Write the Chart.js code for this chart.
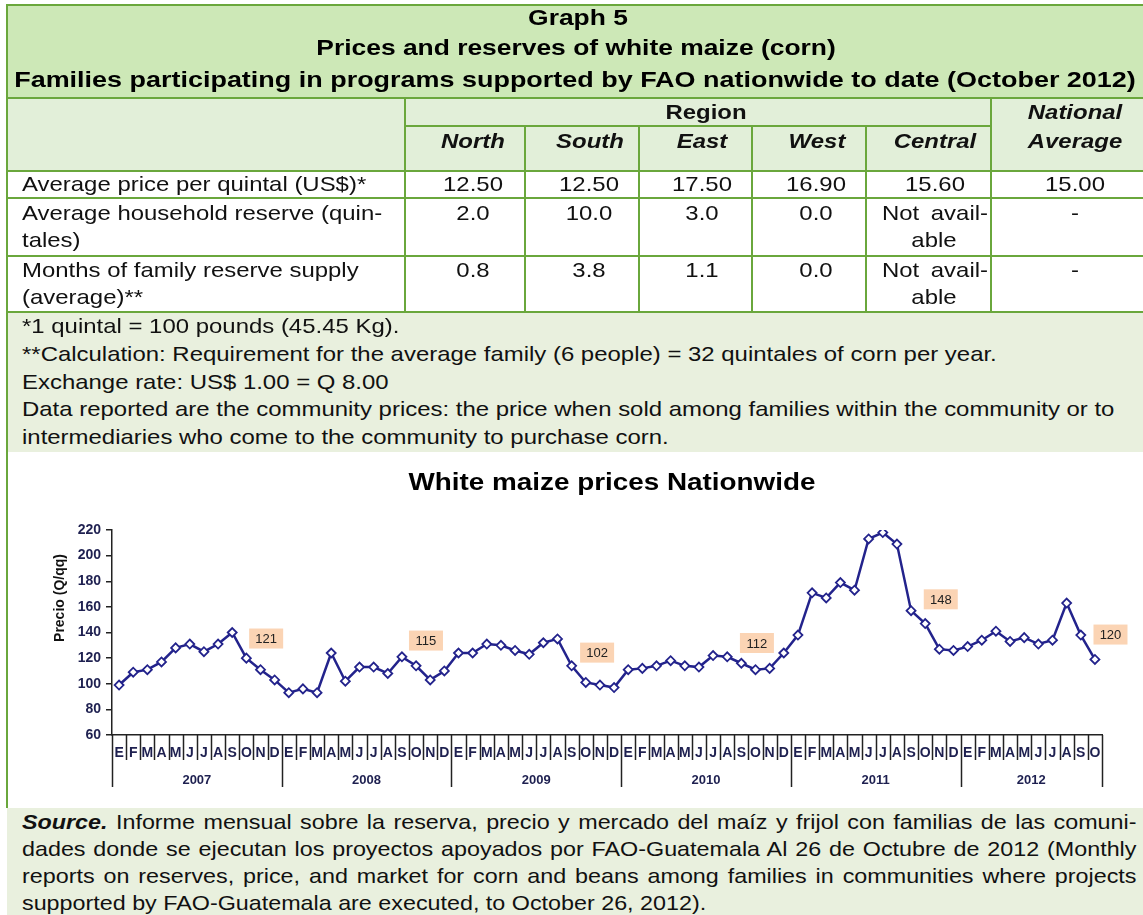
<!DOCTYPE html>
<html><head><meta charset="utf-8">
<script src="https://cdn.jsdelivr.net/npm/chart.js@4.4.1/dist/chart.umd.min.js"></script>
<style>
body{margin:0;background:#fff;font-family:"Liberation Sans",Arial,sans-serif;color:#111;}
#page{position:relative;width:1143px;height:915px;overflow:hidden;}
.bg,.ln{position:absolute;}
.ln{background:#6aa73c;z-index:3;}
.t{position:absolute;white-space:nowrap;font-size:21px;line-height:28px;z-index:4;}
.b{font-weight:bold}
.bi{font-weight:bold;font-style:italic}
.title{font-size:22px;font-weight:bold;color:#000;}
.ct{font-size:24px;font-weight:bold;color:#000;}
.src{position:absolute;left:22px;width:1004px;font-size:21px;line-height:27px;white-space:nowrap;z-index:4;transform:scaleX(1.11);transform-origin:left top;}
.src div{text-align:justify;text-align-last:justify;}
.src div.last{text-align:left;text-align-last:left;}
#chartBox{position:absolute;left:0;top:452px;width:1143px;height:356px;z-index:2;}
</style></head>
<body>
<div id="page">
  <div class="bg" style="left:7px;top:5px;width:1136px;height:93px;background:#cde8b7"></div>
  <div class="bg" style="left:7px;top:98px;width:1136px;height:73px;background:#e2efd9"></div>
  <div class="bg" style="left:7px;top:312px;width:1136px;height:140px;background:#e9f0de"></div>
  <div class="bg" style="left:7px;top:808px;width:1136px;height:107px;background:#e9f0de"></div>

  <div class="ln" style="left:6px;top:4px;width:1137px;height:2px"></div>
  <div class="ln" style="left:6px;top:4px;width:2px;height:804px"></div>
  <div class="ln" style="left:6px;top:97px;width:1137px;height:2px"></div>
  <div class="ln" style="left:404px;top:125px;width:587px;height:2px"></div>
  <div class="ln" style="left:6px;top:170px;width:1137px;height:2px"></div>
  <div class="ln" style="left:6px;top:197px;width:1137px;height:2px"></div>
  <div class="ln" style="left:6px;top:255px;width:1137px;height:2px"></div>
  <div class="ln" style="left:6px;top:311px;width:1137px;height:2px"></div>
  <div class="ln" style="left:404px;top:98px;width:2px;height:214px"></div>
  <div class="ln" style="left:990px;top:98px;width:2px;height:214px"></div>
  <div class="ln" style="left:524px;top:126px;width:2px;height:186px"></div>
  <div class="ln" style="left:638px;top:126px;width:2px;height:186px"></div>
  <div class="ln" style="left:751px;top:126px;width:2px;height:186px"></div>
  <div class="ln" style="left:865px;top:126px;width:2px;height:186px"></div>

  <div class="src" style="top:808px">
    <div><b><i>Source.</i></b> Informe mensual sobre la reserva, precio y mercado del maíz y frijol con familias de las comuni-</div>
    <div>dades donde se ejecutan los proyectos apoyados por FAO-Guatemala Al 26 de Octubre de 2012 (Monthly</div>
    <div>reports on reserves, price, and market for corn and beans among families in communities where projects</div>
    <div class="last">supported by FAO-Guatemala are executed, to October 26, 2012).</div>
  </div>

  <div id="chartBox"><canvas id="c" width="1143" height="356"></canvas></div>
</div>
<script>
// ---- chart data ----
const monthLetters = ['E','F','M','A','M','J','J','A','S','O','N','D'];
const years = ['2007','2008','2009','2010','2011','2012'];
const prices2007 = [99,109,111,117,128,131,125,131,140,120,111,103];
const prices2008 = [93,96,93,124,102,113,113,108,121,114,103,110];
const prices2009 = [124,124,131,130,126,123,132,135,114,101,99,97];
const prices2010 = [111,112,114,118,114,113,122,121,116,111,112,124];
const prices2011 = [138,171,167,179,173,213,218,209,157,147,127,126];
const prices2012 = [129,134,141,133,136,131,134,163,138,119];
const yTicks = [60,80,100,120,140,160,180,200,220];
const yAxisTitle = 'Precio (Q/qq)';
const annualLabels = ['121','115','102','112','148','120'];
const annualLabelMonth = [10.4,21.7,33.8,45.1,58.1,70.1];
const annualLabelValue = [135.3,133.7,124.3,131.8,165.9,138.4];

// ---- table text ----
const SX = 1.14;
function put(text, x, y, align, cls, sx){
  const d = document.createElement('div');
  d.className = 't ' + (cls||'');
  d.textContent = text;
  d.style.top = (y-14)+'px';
  const s = sx || SX;
  if(align==='center'){ d.style.left=(x-700)+'px'; d.style.width='1400px'; d.style.textAlign='center'; d.style.transformOrigin='center center'; }
  else if(align==='right'){ d.style.left=(x-1400)+'px'; d.style.width='1400px'; d.style.textAlign='right'; d.style.transformOrigin='right center'; }
  else { d.style.left=x+'px'; d.style.transformOrigin='left center'; }
  d.style.transform = 'scaleX('+s+')';
  document.getElementById('page').appendChild(d);
}
put('Graph 5',578,18,'center','title',1.2);
put('Prices and reserves of white maize (corn)',576,48,'center','title',1.2);
put('Families participating in programs supported by FAO nationwide to date (October 2012)',575,80,'center','title',1.225);
put('Region',706,112,'center','b');
put('National',1075,112,'center','bi');
put('Average',1075,141,'center','bi');
const regions = ['North','South','East','West','Central'];
const colX = [473,590,702,817,935];
regions.forEach((r,i)=>put(r,colX[i],141,'center','bi'));
put('Average price per quintal (US$)*',22,184,'left');
put('Average household reserve (quin-',22,213,'left');
put('tales)',22,240,'left');
put('Months of family reserve supply',22,270,'left');
put('(average)**',22,297,'left');
const priceRow = ['12.50','12.50','17.50','16.90','15.60','15.00'];
const priceX = [473,589,702,816,935,1075];
priceRow.forEach((v,i)=>put(v,priceX[i],184,'center'));
const reserveRow = ['2.0','10.0','3.0','0.0'];
const monthsRow = ['0.8','3.8','1.1','0.0'];
reserveRow.forEach((v,i)=>put(v,priceX[i],213,'center'));
monthsRow.forEach((v,i)=>put(v,priceX[i],270,'center'));
[213,270].forEach(y=>{ put('Not',882,y,'left'); put('avail-',988,y,'right'); put('able',934,y+27,'center'); put('-',1075,y,'center'); });
put('*1 quintal = 100 pounds (45.45 Kg).',22,326,'left');
put('**Calculation: Requirement for the average family (6 people) = 32 quintales of corn per year.',22,354,'left');
put('Exchange rate: US$ 1.00 = Q 8.00',22,382,'left');
put('Data reported are the community prices: the price when sold among families within the community or to',22,409,'left');
put('intermediaries who come to the community to purchase corn.',22,437,'left');
put('White maize prices Nationwide',612,482,'center','ct',1.16);

// ---- chart ----
const prices = [].concat(prices2007,prices2008,prices2009,prices2010,prices2011,prices2012);
const labels = [];
years.forEach(()=>monthLetters.forEach(m=>labels.push(m)));
labels.length = prices.length;

const axisDecor = {
  id:'axisDecor',
  afterDraw(chart){
    const {ctx, chartArea:a, scales:{x}} = chart;
    const n = chart.data.labels.length;
    ctx.save();
    ctx.strokeStyle = '#222'; ctx.lineWidth = 1.5;
    for(let i=0;i<=n;i++){
      const px = Math.round(x.getPixelForValue(i-0.5))+0.5;
      const isYear = (i%12===0) || i===n;
      ctx.beginPath(); ctx.moveTo(px,a.bottom); ctx.lineTo(px,a.bottom+(isYear?52:25)); ctx.stroke();
    }
    ctx.fillStyle = '#1e2050';
    ctx.textAlign='center'; ctx.textBaseline='middle';
    ctx.font = 'bold 14px "Liberation Sans", Arial, sans-serif';
    chart.data.labels.forEach((l,i)=>ctx.fillText(l, x.getPixelForValue(i), a.bottom+18));
    ctx.font = 'bold 13px "Liberation Sans", Arial, sans-serif';
    years.forEach((yr,k)=>{
      const s=k*12, e=Math.min(n-1,s+11);
      ctx.fillText(yr,(x.getPixelForValue(s)+x.getPixelForValue(e))/2, a.bottom+45);
    });
    ctx.save();
    ctx.translate(a.left-52, a.top+68);
    ctx.rotate(-Math.PI/2);
    ctx.fillStyle = '#111';
    ctx.textAlign='center'; ctx.textBaseline='middle';
    ctx.font = 'bold 14px "Liberation Sans Narrow", "Liberation Sans", Arial, sans-serif';
    ctx.fillText(yAxisTitle, 0, 0);
    ctx.restore();
    ctx.restore();
  },
  afterDatasetsDraw(chart){
    const {ctx, scales:{x,y}} = chart;
    ctx.save();
    ctx.font = '13px "Liberation Sans", Arial, sans-serif';
    ctx.textAlign='center'; ctx.textBaseline='middle';
    annualLabels.forEach((t,i)=>{
      const cx = x.getPixelForValue(annualLabelMonth[i]);
      const cy = y.getPixelForValue(annualLabelValue[i]);
      ctx.fillStyle = '#fbd4b4';
      ctx.fillRect(cx-17, cy-10, 34, 20);
      ctx.fillStyle = '#222';
      ctx.fillText(t, cx, cy+1);
    });
    ctx.restore();
  }
};

new Chart(document.getElementById('c'), {
  type:'line',
  data:{ labels, datasets:[{
    data: prices,
    borderColor:'#23238c', borderWidth:2.5, tension:0,
    pointStyle:'rectRot', pointRadius:4.5, pointBackgroundColor:'#ffffff',
    pointBorderColor:'#23238c', pointBorderWidth:1.8
  }]},
  options:{
    responsive:false, animation:false, devicePixelRatio:1,
    layout:{padding:{top:78,left:52,right:41,bottom:0}},
    plugins:{legend:{display:false}, tooltip:{enabled:false}, title:{display:false}},
    scales:{
      x:{ offset:true, grid:{display:false}, ticks:{display:false},
          border:{display:true,color:'#222',width:1.5},
          afterFit(s){ s.height = 73; } },
      y:{ min:yTicks[0], max:yTicks[yTicks.length-1],
          afterBuildTicks(s){ s.ticks = yTicks.map(v=>({value:v})); },
          ticks:{ font:{size:14,weight:'bold',family:'"Liberation Sans", Arial, sans-serif'}, color:'#1e2050', padding:5 },
          grid:{ drawOnChartArea:false, drawTicks:true, tickLength:6, color:'#222', lineWidth:1.5 },
          border:{display:true,color:'#222',width:1.5},
          title:{ display:false },
          afterFit(s){ s.width = 60; } }
    }
  },
  plugins:[axisDecor]
});
</script>
</body></html>
